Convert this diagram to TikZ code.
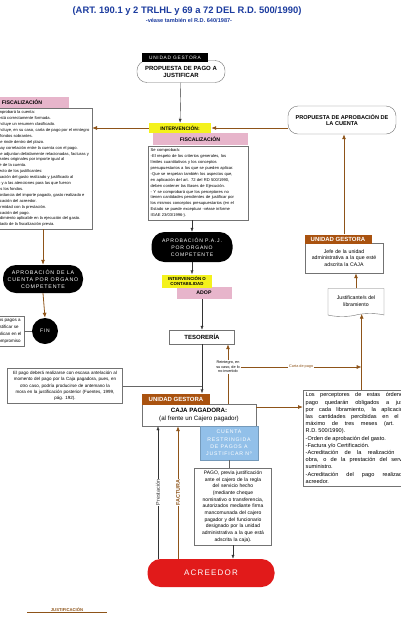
\documentclass[tikz,border=0pt]{standalone}
\usepackage{fontspec}
\setmainfont{Liberation Sans}
\newfontfamily\spacedfont[LetterSpace=15]{Liberation Sans}
\usetikzlibrary{arrows.meta,shapes.symbols}
\definecolor{justif}{HTML}{8E5419}
\definecolor{gestora}{HTML}{A9520F}
\definecolor{intyellow}{HTML}{F4F21C}
\definecolor{fiscpink}{HTML}{E7B5CB}
\definecolor{cuentablue}{HTML}{92C0E9}
\definecolor{acreedorred}{HTML}{E11A1A}
\definecolor{titleblue}{HTML}{1C3C9F}
\tikzset{
  textbox/.style={draw=black!55, fill=white, inner sep=2.5pt, font=\fontsize{4.1}{5.9}\selectfont},
  pill/.style={draw=black!55, fill=white, rounded corners=10pt, align=center, font=\bfseries\fontsize{6}{7}\selectfont},
  blackpill/.style={fill=black, text=white, rounded corners=13pt, align=center, font=\spacedfont\fontsize{5.1}{7}\selectfont},
  yellowtag/.style={fill=intyellow, align=center, inner sep=1pt, font=\bfseries\fontsize{5}{5.4}\selectfont},
  pinkbar/.style={fill=fiscpink, inner sep=1pt, font=\bfseries\fontsize{5.2}{6}\selectfont},
  gestoratag/.style={fill=gestora, text=white, inner sep=1pt, font=\bfseries\fontsize{6}{6.5}\selectfont},
  blacktag/.style={fill=black, text=white, inner sep=1pt, font=\spacedfont\fontsize{4.8}{5}\selectfont},
  note/.style={fill=white, inner sep=0.6pt, align=center, font=\fontsize{3.8}{4.6}\selectfont},
  sidelabel/.style={rotate=90, fill=white, inner sep=0.6pt, font=\fontsize{5.4}{6}\selectfont},
  flow/.style={black!80, line width=0.4pt, -{Latex[length=4pt,width=3pt]}},
  justline/.style={justif, line width=0.8pt},
  justarrow/.style={justline, -{Latex[length=5pt,width=4pt]}},
}
\begin{document}
\begin{tikzpicture}[x=1pt, y=-1pt]
  \useasboundingbox[fill=white] (0,0) rectangle (400,622);
  \node[text=titleblue, font=\bfseries\fontsize{9.4}{11}\selectfont] (title) at (187,11) {(ART. 190.1 y 2 TRLHL y 69 a 72 DEL R.D. 500/1990)};
  \node[text=titleblue, font=\bfseries\fontsize{5.6}{6}\selectfont] (subtitle) at (189,20) {-véase también el R.D. 640/1987-};

  % centre column
  \node[pill, minimum width=88pt, minimum height=22pt] (propago) at (181,71.5) {PROPUESTA DE PAGO A\\JUSTIFICAR};
  \node[blacktag, minimum width=66pt, minimum height=9pt] (ugtop) at (175,57.5) {UNIDAD GESTORA};
  \node[pinkbar, minimum width=95pt, minimum height=12pt] (fisc) at (200,139) {FISCALIZACIÓN};
  \node[yellowtag, minimum width=62pt, minimum height=10pt] (int1) at (180,128) {INTERVENCIÓN:};
  \node[textbox, text width=95pt, align=left, anchor=north west] (fisctext) at (148,146) {Se comprobará:\\-El respeto de los criterios generales, los\\límites cuantitativos y los conceptos\\presupuestarios a los que se pueden aplicar.\\-Que se respetan también los aspectos que,\\en aplicación del art. 72 del RD 500/1990,\\deben contener las Bases de Ejecución.\\- Y se comprobará que los perceptores no\\tienen cantidades pendientes de justificar por\\los mismos conceptos presupuestarios (en el\\Estado se puede exceptuar -véase informe\\IGAE 23/03/1996-).};
  \node[blackpill, minimum width=81pt, minimum height=30pt] (apropaj) at (192,247) {APROBACIÓN P.A.J.\\POR ORGANO\\COMPETENTE};
  \node[pinkbar, minimum width=55pt, minimum height=12pt] (adop) at (204,293) {ADOP};
  \node[yellowtag, minimum width=50pt, minimum height=13pt, font=\bfseries\fontsize{4.4}{5}\selectfont] (int2) at (187,281) {INTERVENCIÓN O\\CONTABILIDAD};
  \node[textbox, font=\bfseries\fontsize{6}{7}\selectfont, minimum width=65pt, minimum height=14pt] (tesoreria) at (202,337) {TESORERÍA};
  \node[textbox, align=center, minimum width=114pt, minimum height=22pt, font=\fontsize{6.2}{7.4}\selectfont] (caja) at (199,415) {\textbf{CAJA PAGADORA:}\\(al frente un Cajero pagador)};
  \node[gestoratag, minimum width=68pt, minimum height=11pt] (ugcaja) at (176,399) {UNIDAD GESTORA};
  \node[fill=cuentablue, draw=cuentablue!80!black, text=white, align=center, inner sep=1pt, minimum width=58pt, minimum height=34pt, font=\spacedfont\fontsize{5.2}{7.4}\selectfont] (cuenta) at (229,443) {CUENTA\\RESTRINGIDA\\DE PAGOS A\\JUSTIFICAR Nº};
  \node[textbox, align=center, text width=72pt, anchor=north, font=\fontsize{5}{6.7}\selectfont] (pago) at (233,468) {PAGO, previa justificación\\ante el cajero de la regla\\del servicio hecho\\(mediante cheque\\nominativo o transferencia,\\autorizados mediante firma\\mancomunada del cajero\\pagador y del funcionario\\designado por la unidad\\administrativa a la que está\\adscrita la caja).};
  \node[fill=acreedorred, text=white, rounded corners=13pt, minimum width=127pt, minimum height=28pt, font=\spacedfont\fontsize{8}{9}\selectfont] (acreedor) at (211,573) {ACREEDOR};

  % left column
  \node[pinkbar, minimum width=94pt, minimum height=11pt] (fischead) at (22,102.5) {FISCALIZACIÓN};
  \node[textbox, align=left, anchor=north east] (fiscleft) at (92,108) {Se comprobará la cuenta:\\-Que está correctamente formada.\\-Que incluye un resumen clasificado.\\-Que incluye, en su caso, carta de pago por el reintegro\\de los fondos sobrantes.\\-Que se rinde dentro del plazo.\\-Que hay correlación entre la cuenta con el pago.\\-Que se adjuntan debidamente relacionadas, facturas y\\justificantes originales por importe igual al\\importe de la cuenta.\\-Respecto de los justificantes:\\-Adecuación del gasto realizado y justificado al\\crédito y a las atenciones para las que fueron\\librados los fondos.\\-Concordancia del importe pagado, gasto realizado e\\identificación del acreedor.\\-Conformidad con la prestación.\\-Justificación del pago.\\-Procedimiento aplicable en la ejecución del gasto.\\-Resultado de la fiscalización previa.};
  \node[blackpill, minimum width=80pt, minimum height=28pt, font=\spacedfont\fontsize{5.3}{7}\selectfont] (aprocuenta) at (43,279) {APROBACIÓN DE LA\\CUENTA POR ORGANO\\COMPETENTE};
  \node[circle, fill=black, text=white, minimum size=26pt, inner sep=0pt, font=\spacedfont\fontsize{5}{6}\selectfont] (fin) at (45,331) {FIN};
  \node[textbox, align=left, anchor=east, font=\fontsize{4.5}{7}\selectfont] (notafin) at (24,331) {Los pagos a\\justificar se\\aplican en el\\compromiso};
  \node[textbox, align=center, text width=110pt, font=\fontsize{4.5}{6.4}\selectfont] (notapago) at (65,386) {El pago deberá realizarse con escasa antelación al\\momento del pago por la Caja pagadora, pues, en\\otro caso, podría producirse de antemano la\\mora en la justificación posterior (Fuentes, 1999,\\pág. 192).};

  % right column
  \node[pill, minimum width=108pt, minimum height=28pt, font=\bfseries\fontsize{5.6}{6.6}\selectfont] (propcuenta) at (342,120) {PROPUESTA DE APROBACIÓN DE\\LA CUENTA};
  \node[textbox, align=center, text width=73pt, minimum height=30pt, font=\fontsize{5.2}{6.5}\selectfont] (ugbox) at (344,258) {Jefe de la unidad\\administrativa a la que esté\\adscrita la CAJA};
  \node[gestoratag, minimum width=67pt, minimum height=9pt] (ugright) at (338,239) {UNIDAD GESTORA};
  \node[tape, draw=black!55, fill=white, tape bend top=none, tape bend height=3pt, minimum width=56pt, minimum height=28pt, align=center, font=\fontsize{5.2}{6.4}\selectfont] (justif) at (356,301) {Justificante/s del\\libramiento};
  \node[textbox, anchor=north west, text width=112pt, align=justify, font=\fontsize{5.6}{7.2}\selectfont] (perceptores) at (303,390) {Los perceptores de estas órdenes de\linebreak pago quedarán obligados a justificar,\linebreak por cada libramiento, la aplicación de\linebreak las cantidades percibidas en el plazo\linebreak máximo de tres meses (art. 72\linebreak R.D. 500/1990).\\-Orden de aprobación del gasto.\\-Factura y/o Certificación.\\-Acreditación de la realización de la\linebreak obra, o de la prestación del servicio o\linebreak suministro.\\-Acreditación del pago realizado al\linebreak acreedor.};

  % connectors
  \draw[flow] (propago) -- (int1);
  \draw[justarrow] (propcuenta.west |- int1.east) -- (int1.east);
  \draw[justarrow] (int1.west) -- (int1.west -| fiscleft.east);
  \draw[flow] (apropaj.north |- fisctext.south) -- (apropaj.north);
  \draw[flow] (apropaj.south) -- (apropaj.south |- int2.north);
  \draw[flow] (tesoreria.north |- adop.south) -- (tesoreria.north);
  \draw[flow] (tesoreria.south) -- (tesoreria.south |- ugcaja.north);
  \draw[black!60] (notapago.east) -- (notapago.east -| tesoreria.south);
  \coordinate (reintx) at (228,367);
  \draw[justarrow] (reintx |- caja.north) -- (reintx |- tesoreria.south);
  \node[note] (reint) at (reintx) {Reintegro, en\\su caso, de lo\\no invertido};
  \draw[justarrow] (reint.east) -- node[note] (carta) {Carta de pago} (reint.east -| perceptores.north);
  \draw[justarrow] ([yshift=8pt]caja.east) -- ([yshift=8pt]caja.east -| perceptores.west);
  \draw[justarrow] (perceptores.north) -- (perceptores.north |- justif.south);
  \draw[justarrow] (justif.north) -- (justif.north |- ugbox.south);
  \draw[justarrow] (ugbox.north |- ugright.north) -- (ugbox.north |- propcuenta.south);
  \draw[justarrow] (aprocuenta.north |- fiscleft.south) -- (aprocuenta.north);
  \draw[justarrow] (aprocuenta.south) -- (fin.north);
  \draw[black!60] (notafin.east) -- (fin.west);
  \draw[black!60] (cuenta.south) -- (cuenta.south |- pago.north);
  \draw[flow] (pago.south) -- (pago.south |- acreedor.north);
  \coordinate (prestx) at (158,0);
  \coordinate (factx) at (178,0);
  \draw[flow] (prestx |- acreedor.north) -- node[sidelabel] (prestlbl) {Prestación} (prestx |- caja.south);
  \draw[justarrow] (factx |- acreedor.north) -- node[sidelabel, font=\bfseries\fontsize{5.4}{6}\selectfont] (factlbl) {FACTURA} (factx |- caja.south);

  % legend
  \coordinate (legA) at (27,612);
  \coordinate (legB) at (107,612);
  \draw[justline] (legA) -- node[above, inner sep=0.4pt, font=\bfseries\fontsize{4.2}{5}\selectfont] (leglbl) {JUSTIFICACIÓN} (legB);
\end{tikzpicture}
\end{document}
